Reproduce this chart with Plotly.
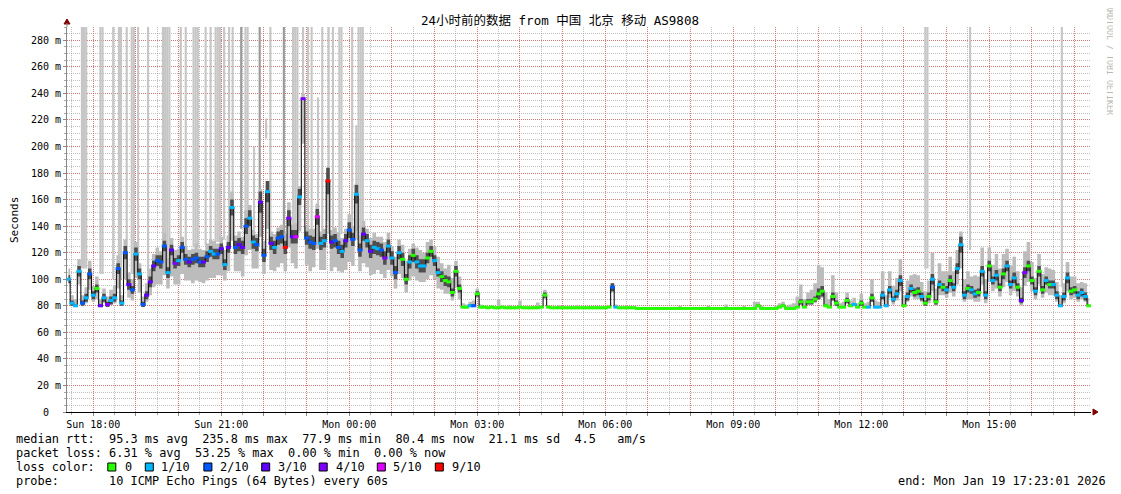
import pandas as pd
import plotly.graph_objects as go

# SmokePing style latency graph, 24h window, one sample every 5 minutes
START = "2026-01-18 17:23:01"
END = "2026-01-19 17:23:01"
FIRST_SAMPLE = "2026-01-18 17:25"

# median rtt in ms, one value per 5 minutes (17:25 ... 17:20)
median_ms = [
    100, 82, 80, 106, 82, 86, 104, 88, 93, 80,
    86, 81, 84, 86, 108, 82, 120, 96, 92, 119,
    104, 81, 88, 98, 110, 114, 113, 125, 105, 122,
    112, 114, 124, 115, 113, 115, 116, 113, 113, 117,
    121, 119, 119, 123, 111, 124, 154, 124, 126, 124,
    140, 146, 128, 126, 158, 118, 166, 127, 124, 131,
    132, 124, 146, 132, 132, 162, 236, 131, 128, 127,
    147, 127, 129, 174, 128, 129, 124, 121, 129, 137,
    130, 164, 122, 134, 129, 121, 124, 123, 122, 116,
    125, 116, 105, 120, 115, 100, 113, 118, 113, 110,
    110, 116, 121, 114, 105, 102, 99, 98, 90, 106,
    93, 79, 79, 80, 80, 89, 79, 79, 78.5, 79,
    78.5, 78.5, 79, 78.5, 78.5, 78.5, 78.5, 79, 78.5, 78.5,
    78.5, 78.5, 78.5, 79, 88, 79, 78.5, 78.5, 78.5, 78.5,
    78.5, 78.5, 78.5, 78.5, 78.5, 78.5, 78.5, 78.5, 78.5, 78.5,
    78.5, 78.5, 79, 94, 79, 78.5, 78.5, 78.5, 78.5, 78.5,
    78, 78, 78, 78, 78, 78, 78, 78, 78, 78,
    78, 78, 78, 78, 78, 78, 78, 78, 78, 78,
    78, 78, 78, 78, 78, 78, 78, 78, 78, 78,
    78, 78, 78, 78, 80, 78, 78, 78, 78, 78,
    79, 80, 78, 78, 78, 79, 83, 79, 83, 83,
    85, 89, 91, 80, 79, 87, 82, 79, 79, 84,
    80, 81, 79, 82, 79, 79, 86, 79, 79, 88,
    80, 92, 85, 89, 99, 80, 87, 93, 90, 91,
    87, 82, 87, 100, 83, 96, 94, 92, 99, 94,
    108, 126, 88, 93, 92, 89, 90, 106, 88, 110,
    99, 103, 94, 104, 110, 96, 101, 94, 84, 105,
    110, 99, 91, 106, 92, 99, 96, 96, 88, 80,
    87, 101, 91, 92, 88, 90, 87, 80,
]

# lost pings out of 10 for each sample
loss = [
    1, 1, 1, 1, 2, 1, 2, 1, 0, 3,
    1, 4, 1, 1, 2, 1, 2, 3, 2, 1,
    1, 2, 3, 3, 3, 2, 2, 2, 1, 3,
    4, 1, 2, 2, 3, 2, 2, 2, 3, 2,
    1, 1, 2, 3, 1, 3, 1, 2, 3, 3,
    2, 1, 1, 2, 3, 2, 1, 3, 1, 2,
    2, 9, 4, 3, 5, 1, 4, 2, 2, 2,
    5, 1, 1, 9, 3, 2, 2, 1, 3, 2,
    2, 1, 2, 3, 1, 3, 1, 1, 2, 4,
    1, 1, 2, 1, 0, 0, 1, 0, 1, 1,
    1, 0, 0, 1, 1, 0, 0, 0, 0, 0,
    0, 0, 0, 1, 2, 0, 0, 0, 0, 0,
    0, 0, 0, 0, 0, 0, 0, 0, 0, 0,
    0, 0, 0, 0, 0, 0, 0, 0, 0, 0,
    0, 0, 0, 0, 0, 0, 0, 0, 0, 0,
    0, 0, 0, 2, 1, 0, 0, 0, 0, 0,
    0, 0, 0, 0, 0, 0, 0, 0, 0, 0,
    0, 0, 0, 0, 0, 0, 0, 0, 0, 0,
    0, 0, 0, 0, 0, 0, 0, 0, 0, 0,
    0, 0, 0, 0, 0, 0, 0, 0, 0, 0,
    0, 0, 0, 0, 0, 0, 0, 0, 0, 0,
    0, 0, 0, 0, 0, 0, 0, 0, 0, 0,
    0, 1, 0, 0, 0, 1, 0, 1, 1, 1,
    1, 1, 1, 1, 1, 0, 1, 1, 0, 0,
    1, 0, 0, 1, 0, 1, 0, 1, 0, 1,
    1, 1, 1, 0, 1, 1, 0, 1, 1, 0,
    1, 1, 0, 0, 1, 1, 1, 0, 3, 4,
    0, 0, 1, 0, 0, 1, 0, 1, 1, 1,
    1, 1, 0, 0, 1, 1, 1, 0,
]

# spread of the slowest pings above the median (ms)
smoke_up = [
    8, 6, 5, 9, 6, 8, 10, 7, 9, 5,
    7, 6, 8, 9, 10, 6, 10, 9, 8, 9,
    8, 6, 9, 10, 9, 10, 8, 10, 11, 9,
    10, 9, 8, 10, 9, 8, 11, 10, 9, 10,
    9, 10, 8, 9, 11, 9, 12, 9, 10, 8,
    12, 10, 9, 8, 10, 11, 8, 9, 10, 8,
    9, 10, 12, 9, 10, 8, 4, 9, 10, 11,
    10, 9, 9, 6, 9, 10, 11, 10, 9, 12,
    10, 8, 11, 10, 9, 10, 11, 9, 10, 12,
    10, 9, 12, 10, 11, 14, 10, 9, 11, 12,
    10, 12, 9, 11, 12, 10, 9, 13, 11, 8,
    9, 3, 2, 3, 4, 4, 2, 1, 1, 1,
    1, 6, 1, 1, 2, 1, 1, 5, 1, 1,
    1, 1, 4, 1, 4, 1, 1, 1, 2, 1,
    1, 1, 1, 2, 1, 1, 1, 1, 1, 1,
    1, 1, 1, 3, 2, 1, 1, 1, 1, 1,
    1, 1, 1, 1, 1, 1, 1, 1, 1, 1,
    1, 1, 2, 1, 1, 1, 1, 1, 1, 1,
    2, 1, 1, 1, 1, 3, 1, 1, 1, 1,
    2, 1, 1, 5, 3, 2, 1, 1, 1, 2,
    3, 3, 2, 3, 4, 8, 13, 6, 7, 9,
    12, 22, 18, 10, 6, 16, 8, 3, 4, 6,
    4, 5, 3, 7, 3, 4, 14, 5, 4, 18,
    8, 14, 10, 12, 16, 8, 12, 10, 14, 12,
    11, 9, 12, 20, 10, 16, 12, 14, 18, 12,
    14, 10, 12, 13, 10, 14, 12, 18, 12, 14,
    12, 16, 14, 15, 13, 14, 16, 12, 10, 16,
    18, 14, 10, 13, 12, 10, 12, 11, 10, 8,
    10, 12, 11, 10, 9, 8, 10, 6,
]

# spread of the fastest pings below the median (ms)
smoke_down = [
    3, 2, 1, 10, 2, 4, 12, 5, 8, 1,
    4, 2, 3, 4, 15, 2, 20, 10, 8, 18,
    14, 2, 5, 10, 16, 18, 17, 22, 12, 20,
    16, 18, 20, 16, 14, 18, 17, 15, 16, 18,
    20, 18, 16, 20, 12, 18, 25, 18, 20, 22,
    22, 24, 20, 18, 26, 14, 28, 20, 18, 22,
    20, 18, 22, 20, 24, 26, 34, 20, 22, 18,
    24, 20, 22, 30, 22, 20, 18, 16, 22, 24,
    20, 28, 16, 22, 20, 18, 20, 16, 18, 15,
    18, 14, 12, 16, 14, 10, 14, 16, 14, 12,
    12, 16, 18, 14, 12, 10, 10, 9, 6, 12,
    8, 1, 1, 1, 1, 3, 1, 0, 0, 0,
    0, 0, 0, 0, 0, 0, 0, 0, 0, 0,
    0, 0, 0, 0, 3, 0, 0, 0, 0, 0,
    0, 0, 0, 0, 0, 0, 0, 0, 0, 0,
    0, 0, 0, 4, 0, 0, 0, 0, 0, 0,
    0, 0, 0, 0, 0, 0, 0, 0, 0, 0,
    0, 0, 0, 0, 0, 0, 0, 0, 0, 0,
    0, 0, 0, 0, 0, 0, 0, 0, 0, 0,
    0, 0, 0, 0, 0, 0, 0, 0, 0, 0,
    0, 0, 0, 0, 0, 0, 2, 0, 2, 2,
    3, 4, 5, 0, 0, 3, 2, 0, 0, 2,
    1, 1, 0, 2, 0, 0, 3, 0, 0, 4,
    1, 6, 4, 5, 8, 1, 4, 6, 5, 6,
    4, 2, 5, 9, 3, 8, 6, 6, 9, 7,
    12, 18, 5, 8, 7, 6, 7, 10, 6, 12,
    8, 10, 7, 10, 12, 8, 10, 7, 4, 10,
    12, 8, 6, 10, 6, 9, 8, 8, 5, 1,
    5, 10, 6, 6, 5, 5, 4, 1,
]

# half width of the dense middle pings (ms)
core_ms = [
    3, 2, 1, 4, 2, 3, 4, 3, 3, 1,
    3, 2, 3, 3, 4, 2, 5, 4, 3, 5,
    4, 2, 3, 4, 4, 4, 5, 4, 4, 4,
    4, 4, 4, 4, 4, 4, 4, 4, 4, 4,
    4, 4, 4, 4, 4, 4, 6, 5, 5, 5,
    6, 6, 5, 5, 8, 5, 8, 5, 5, 5,
    5, 5, 6, 5, 5, 6, 0, 5, 5, 5,
    6, 5, 5, 10, 5, 5, 5, 5, 5, 6,
    5, 7, 5, 5, 5, 5, 5, 5, 5, 5,
    5, 5, 5, 5, 5, 4, 5, 5, 5, 5,
    5, 4, 4, 4, 3, 4, 4, 4, 3, 4,
    3, 0, 0, 1, 1, 2, 0, 0, 0, 0,
    0, 0, 0, 0, 0, 0, 0, 0, 0, 0,
    0, 0, 0, 0, 2, 0, 0, 0, 0, 0,
    0, 0, 0, 0, 0, 0, 0, 0, 0, 0,
    0, 0, 0, 3, 0, 0, 0, 0, 0, 0,
    0, 0, 0, 0, 0, 0, 0, 0, 0, 0,
    0, 0, 0, 0, 0, 0, 0, 0, 0, 0,
    0, 0, 0, 0, 0, 0, 0, 0, 0, 0,
    0, 0, 0, 0, 1, 0, 0, 0, 0, 0,
    0, 1, 0, 0, 0, 0, 2, 0, 2, 2,
    2, 4, 4, 1, 0, 3, 2, 0, 0, 2,
    1, 1, 0, 2, 0, 0, 3, 0, 0, 3,
    1, 3, 2, 3, 4, 1, 3, 3, 3, 3,
    3, 2, 3, 4, 2, 3, 3, 3, 4, 3,
    4, 6, 3, 3, 3, 3, 3, 4, 3, 4,
    3, 4, 3, 4, 4, 3, 4, 3, 2, 4,
    4, 3, 3, 4, 3, 3, 3, 3, 3, 1,
    3, 4, 3, 3, 3, 3, 3, 1,
]

# very slow pings that run off the top of the graph
spike_time = [
    "2026-01-18 17:44", "2026-01-18 17:47", "2026-01-18 17:50", "2026-01-18 18:10",
    "2026-01-18 18:13", "2026-01-18 18:28", "2026-01-18 18:36", "2026-01-18 18:39",
    "2026-01-18 18:47", "2026-01-18 18:54", "2026-01-18 18:57", "2026-01-18 19:03",
    "2026-01-18 19:17", "2026-01-18 19:38", "2026-01-18 19:41", "2026-01-18 19:44",
    "2026-01-18 19:47", "2026-01-18 20:03", "2026-01-18 20:10", "2026-01-18 20:21",
    "2026-01-18 20:24", "2026-01-18 20:27", "2026-01-18 20:38", "2026-01-18 20:45",
    "2026-01-18 20:52", "2026-01-18 20:55", "2026-01-18 20:58", "2026-01-18 21:04",
    "2026-01-18 21:11", "2026-01-18 21:16", "2026-01-18 21:34", "2026-01-18 21:37",
    "2026-01-18 21:46", "2026-01-18 22:03", "2026-01-18 22:09", "2026-01-18 22:41",
    "2026-01-18 22:44", "2026-01-18 22:47", "2026-01-18 22:55", "2026-01-18 23:02",
    "2026-01-18 23:07", "2026-01-18 23:16", "2026-01-18 23:22", "2026-01-18 23:31",
    "2026-01-18 23:37", "2026-01-18 23:46", "2026-01-18 23:49", "2026-01-19 00:04",
    "2026-01-19 00:10", "2026-01-19 00:13", "2026-01-19 00:16", "2026-01-19 00:19",
    "2026-01-19 13:30", "2026-01-19 13:33", "2026-01-19 14:33", "2026-01-19 16:42",
]
spike_low = [
    108, 108, 108, 104, 104, 100, 100, 100, 100, 104, 104, 104, 100, 115,
    115, 115, 115, 120, 120, 124, 124, 124, 126, 126, 128, 128, 128, 130,
    130, 130, 134, 134, 135, 206, 134, 134, 134, 134, 236, 134, 134, 134,
    134, 134, 134, 134, 134, 132, 130, 130, 130, 130, 108, 108, 122, 94,
]
spike_high = [
    400, 400, 400, 400, 400, 400, 400, 400, 400, 400, 400, 400, 400, 400,
    400, 400, 400, 400, 400, 400, 400, 400, 400, 400, 400, 400, 400, 400,
    400, 400, 400, 400, 200, 221, 400, 400, 400, 400, 400, 400, 400, 237,
    400, 400, 400, 400, 400, 400, 216, 400, 400, 400, 400, 400, 400, 400,
]
dark_spike_time = ["2026-01-18 21:28", "2026-01-18 21:54", "2026-01-18 22:28"]
dark_spike_low = [138, 132, 134]

loss_levels = [0, 1, 2, 3, 4, 5, 9]
loss_labels = ["0", "1/10", "2/10", "3/10", "4/10", "5/10", "9/10"]
loss_colors = ["#26ff00", "#00b8ff", "#0059ff", "#5e00ff", "#7e00ff", "#dd00ff", "#ff0000"]

x_label_times = ["2026-01-18 18:00", "2026-01-18 21:00", "2026-01-19 00:00", "2026-01-19 03:00",
                 "2026-01-19 06:00", "2026-01-19 09:00", "2026-01-19 12:00", "2026-01-19 15:00"]
x_labels = ["Sun 18:00", "Sun 21:00", "Mon 00:00", "Mon 03:00",
            "Mon 06:00", "Mon 09:00", "Mon 12:00", "Mon 15:00"]
y_tick_values = [0, 20, 40, 60, 80, 100, 120, 140, 160, 180, 200, 220, 240, 260, 280]
y_tick_labels = ["0\u00a0\u00a0", "20 m", "40 m", "60 m", "80 m", "100 m", "120 m", "140 m",
                 "160 m", "180 m", "200 m", "220 m", "240 m", "260 m", "280 m"]

legend_lines = [
    "median rtt:  95.3 ms avg  235.8 ms max  77.9 ms min  80.4 ms now  21.1 ms sd  4.5   am/s",
    "packet loss: 6.31 % avg  53.25 % max  0.00 % min  0.00 % now",
    "loss color:",
    "probe:       10 ICMP Echo Pings (64 Bytes) every 60s",
]
end_text = "end: Mon Jan 19 17:23:01 2026"
title_text = "24小时前的数据 from 中国 北京 移动 AS9808"

for arr in (median_ms, loss, smoke_up, smoke_down, core_ms):
    assert len(arr) == 288, len(arr)

times = pd.date_range(FIRST_SAMPLE, periods=len(median_ms), freq="5min")
smoke_lo = [m - d for m, d in zip(median_ms, smoke_down)]
smoke_hi = [m + u for m, u in zip(median_ms, smoke_up)]
core_lo = [m - c for m, c in zip(median_ms, core_ms)]
core_hi = [m + c for m, c in zip(median_ms, core_ms)]
color_of = dict(zip(loss_levels, loss_colors))
point_colors = [color_of[v] for v in loss]

MONO = "DejaVu Sans Mono, Noto Sans CJK SC, monospace"

fig = go.Figure()

# tall grey bars where pings went off the scale
fig.add_trace(go.Bar(
    x=spike_time, y=[h - l for l, h in zip(spike_low, spike_high)], base=spike_low,
    width=180000, marker=dict(color="#c6c6c6", line=dict(width=0)), hoverinfo="skip",
))
fig.add_trace(go.Bar(
    x=dark_spike_time, y=[400 - l for l in dark_spike_low], base=dark_spike_low,
    width=180000, marker=dict(color="#9a9a9a", line=dict(width=0)), hoverinfo="skip",
))

# smoke: outer light band, then dense dark core
fig.add_trace(go.Scatter(x=times, y=smoke_lo, mode="lines", line=dict(width=0, shape="hvh"),
                         hoverinfo="skip"))
fig.add_trace(go.Scatter(x=times, y=smoke_hi, mode="lines", line=dict(width=0, shape="hvh"),
                         fill="tonexty", fillcolor="#bcbcbc", hoverinfo="skip"))
fig.add_trace(go.Scatter(x=times, y=core_lo, mode="lines", line=dict(width=0, shape="hvh"),
                         hoverinfo="skip"))
fig.add_trace(go.Scatter(x=times, y=core_hi, mode="lines", line=dict(width=0, shape="hvh"),
                         fill="tonexty", fillcolor="#4e4e4e", hoverinfo="skip"))

# median line with loss colour dashes
fig.add_trace(go.Scatter(x=times, y=median_ms, mode="lines",
                         line=dict(color="#111111", width=1.1, shape="hvh"), hoverinfo="skip"))
fig.add_trace(go.Scatter(
    x=times, y=median_ms, mode="markers",
    marker=dict(symbol="line-ew", size=3.6, line=dict(width=3, color=point_colors)),
    hovertemplate="%{x|%H:%M}  %{y} ms<extra></extra>",
))

hour_ticks = pd.date_range("2026-01-18 18:00", "2026-01-19 17:00", freq="h")
label_of = dict(zip(pd.to_datetime(x_label_times), x_labels))
hour_text = [label_of.get(t, "") for t in hour_ticks]


# the page puts the figure 8px in from the top left corner; positions below are
# given in window pixels and mapped to paper coordinates of the plot area
def px(x):
    return (x - 67) / 1024


def py(y):
    return (412 - y) / 385


def nb(s):
    return s.replace(" ", "\u00a0")


annotations = [
    dict(text=title_text, x=px(560), y=py(21), font=dict(size=12.5)),
    dict(text="Seconds", x=px(14), y=py(220), textangle=-90, font=dict(size=11)),
    dict(text="RRDTOOL / TOBI OETIKER", x=px(1110), y=py(60), textangle=90,
         font=dict(size=8.3, color="#b8b8b8")),
]
line_y = [438.5, 452.8, 467, 481.3]
for txt, yy in zip(legend_lines, line_y):
    annotations.append(dict(text=nb(txt), x=px(14), y=py(yy), xanchor="left",
                            font=dict(size=11.9)))
annotations.append(dict(text=nb(end_text), x=px(1108), y=py(line_y[3]), xanchor="right",
                        font=dict(size=11.9)))

shapes = []
square_x = [111.8, 149.3, 207.9, 265.7, 323.2, 381.3, 439.3]
label_x = [122.5, 159, 218, 275.5, 333.5, 391, 449.5]
for sx, lx, lab, col in zip(square_x, label_x, loss_labels, loss_colors):
    shapes.append(dict(type="rect", xref="paper", yref="paper", xsizemode="pixel", ysizemode="pixel",
                       xanchor=px(sx), yanchor=py(line_y[2]), x0=-4, x1=4, y0=-4, y1=4,
                       fillcolor=col, line=dict(color="black", width=1)))
    annotations.append(dict(text=lab, x=px(lx), y=py(line_y[2]), xanchor="left",
                            font=dict(size=11.9)))

# axis arrows
shapes.append(dict(type="path", xref="paper", yref="paper", xsizemode="pixel", ysizemode="pixel",
                   xanchor=0, yanchor=1, path="M -3,3 L 3,3 L 0,8 Z",
                   fillcolor="#7f0000", line=dict(color="#7f0000", width=1)))
shapes.append(dict(type="line", xref="paper", yref="paper", xsizemode="pixel", ysizemode="pixel",
                   xanchor=0, yanchor=1, x0=0, x1=0, y0=0, y1=4, line=dict(color="#888888", width=1)))
shapes.append(dict(type="path", xref="paper", yref="paper", xsizemode="pixel", ysizemode="pixel",
                   xanchor=1, yanchor=0, path="M 2,-3 L 2,3 L 7,0 Z",
                   fillcolor="#7f0000", line=dict(color="#7f0000", width=1)))

for a in annotations:
    a.setdefault("xref", "paper")
    a.setdefault("yref", "paper")
    a.setdefault("showarrow", False)
    a.setdefault("yanchor", "middle")
    a.setdefault("xanchor", "center")
    a["font"] = dict(family=MONO, color=a["font"].get("color", "#000000"), size=a["font"]["size"])

fig.update_layout(
    width=1113, height=486,
    margin=dict(l=59, r=30, t=19, b=82),
    paper_bgcolor="white", plot_bgcolor="white",
    showlegend=False, barmode="overlay",
    font=dict(family=MONO, size=10, color="black"),
    xaxis=dict(
        type="date", range=[START, END],
        tickmode="array", tickvals=list(hour_ticks), ticktext=hour_text,
        showgrid=True, gridcolor="rgba(230,60,60,0.55)", griddash="1px,1px", gridwidth=1,
        ticks="outside", ticklen=3, tickcolor="#888888",
        minor=dict(tick0="2026-01-18 17:30", dtick=1800000, showgrid=True,
                   gridcolor="rgba(150,150,150,0.6)", griddash="1px,1px",
                   ticks="outside", ticklen=2, tickcolor="#aaaaaa"),
        showline=True, linecolor="#000000", linewidth=1, zeroline=False,
        tickfont=dict(family=MONO, size=10),
    ),
    yaxis=dict(
        range=[0, 290], tickmode="array", tickvals=y_tick_values, ticktext=y_tick_labels,
        showgrid=True, gridcolor="rgba(230,60,60,0.55)", griddash="1px,1px", gridwidth=1,
        ticks="outside", ticklen=3, tickcolor="#888888",
        minor=dict(tick0=0, dtick=5, showgrid=True, gridcolor="rgba(150,150,150,0.6)",
                   griddash="1px,1px", ticks="outside", ticklen=2, tickcolor="#aaaaaa"),
        showline=True, linecolor="#888888", linewidth=1, zeroline=False,
        tickfont=dict(family=MONO, size=10),
    ),
    annotations=annotations,
    shapes=shapes,
)

fig.write_html("out.html")
